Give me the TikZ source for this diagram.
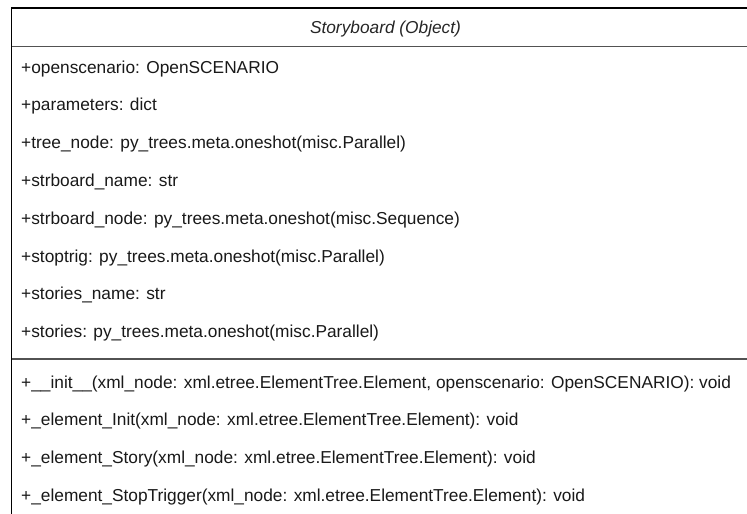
\documentclass[tikz,border=0pt]{standalone}
\usepackage{fontspec}
\setmainfont{Liberation Sans}
\begin{document}
\begin{tikzpicture}[x=1pt,y=-1pt,
  member/.style={anchor=base west, inner sep=0pt, text=black!90, font=\fontsize{17.3}{20}\selectfont},
  classtitle/.style={anchor=base, inner sep=0pt, text=black!85, font=\fontsize{17.3}{20}\selectfont\itshape},
  frame/.style={draw=black, line width=1.1pt},
  divider/.style={draw=black!68, line width=1.8pt}]
\useasboundingbox (0,0) rectangle (747,514);
\fill[white] (0,0) rectangle (747,514);

% class box (extends beyond the visible area on the right and bottom)
\draw[frame] (11.5,530) -- (11.5,8) -- (760,8);
\draw[divider] (11.5,46.5) -- (760,46.5);
\draw[divider, line width=1.3pt] (11.5,359) -- (760,359);

% class name
\node[classtitle] (title) at (385.5,33.5) {Storyboard (Object)};

% attributes
\node[member] (a1) at (21,73)    {+openscenario: OpenSCENARIO};
\node[member] (a2) at (21,110.8) {+parameters: dict};
\node[member] (a3) at (21,148.6) {+tree\_node: py\_trees.meta.oneshot(misc.Parallel)};
\node[member] (a4) at (21,186.4) {+strboard\_name: str};
\node[member] (a5) at (21,224.2) {+strboard\_node: py\_trees.meta.oneshot(misc.Sequence)};
\node[member] (a6) at (21,262)   {+stoptrig: py\_trees.meta.oneshot(misc.Parallel)};
\node[member] (a7) at (21,299.8) {+stories\_name: str};
\node[member] (a8) at (21,337.6) {+stories: py\_trees.meta.oneshot(misc.Parallel)};

% operations
\node[member] (m1) at (21,388)   {+\_\_init\_\_(xml\_node: xml.etree.ElementTree.Element, openscenario: OpenSCENARIO): void};
\node[member] (m2) at (21,425.8) {+\_element\_Init(xml\_node: xml.etree.ElementTree.Element): void};
\node[member] (m3) at (21,463.6) {+\_element\_Story(xml\_node: xml.etree.ElementTree.Element): void};
\node[member] (m4) at (21,501.4) {+\_element\_StopTrigger(xml\_node: xml.etree.ElementTree.Element): void};
\end{tikzpicture}
\end{document}
